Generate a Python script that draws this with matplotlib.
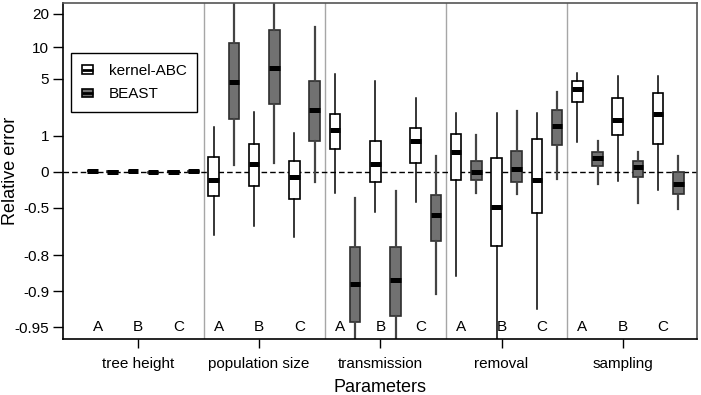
import numpy as np
import matplotlib
matplotlib.use("Agg")
import matplotlib.pyplot as plt
from matplotlib.patches import Rectangle, Patch
from matplotlib.lines import Line2D
from matplotlib.legend_handler import HandlerBase

plt.rcParams['font.family'] = ['Liberation Sans', 'DejaVu Sans']

groups = ['tree height', 'population size', 'transmission', 'removal', 'sampling']
scenarios = ['A', 'B', 'C']
y_ticks = [-0.95, -0.9, -0.8, -0.5, 0, 1, 5, 10, 20]

# five-number summaries, order: group x scenario (A, B, C)
abc_lo = [0.0, 0.005, -0.01, -0.707, -0.652, -0.715, -0.343, -0.544, -0.447,
          -0.866, -0.99, -0.929, 0.78, -0.167, -0.304]
abc_q1 = [0.005, 0.01, -0.005, -0.380, -0.239, -0.408, 0.56, -0.188, 0.178,
          -0.151, -0.759, -0.553, 2.79, 1.01, 0.69]
abc_med = [0.01, 0.015, 0.0, -0.151, 0.155, -0.10, 1.22, 0.149, 0.79,
           0.45, -0.492, -0.151, 3.93, 1.71, 2.03]
abc_q3 = [0.015, 0.02, 0.005, 0.322, 0.69, 0.224, 2.03, 0.80, 1.34,
          1.05, 0.297, 0.87, 4.75, 3.12, 3.56]
abc_hi = [0.02, 0.025, 0.01, 1.37, 2.16, 1.09, 5.5, 4.71, 3.10,
          2.07, 2.07, 2.07, 5.63, 5.29, 5.33]

beast_lo = [-0.01, -0.025, -0.005, 0.127, 0.171, -0.183, -0.99, -0.99, -0.905,
            -0.343, -0.355, -0.129, -0.209, -0.458, -0.512]
beast_q1 = [-0.005, -0.02, 0.0, 1.77, 2.67, 0.82, -0.945, -0.938, -0.736,
            -0.156, -0.178, 0.67, 0.118, -0.106, -0.355]
beast_med = [0.0, -0.015, 0.005, 4.64, 6.34, 2.25, -0.885, -0.875, -0.565,
             0.0, 0.055, 1.42, 0.289, 0.097, -0.214]
beast_q3 = [0.005, -0.01, 0.01, 10.95, 14.3, 4.68, -0.765, -0.765, -0.364,
            0.217, 0.48, 2.25, 0.46, 0.231, -0.015]
beast_hi = [0.01, -0.005, 0.015, 30, 30, 15.1, -0.403, -0.309, 0.340,
            1.01, 2.19, 3.60, 0.79, 0.46, 0.348]

GRAY = '#717171'


def make_stats(lo, q1, med, q3, hi):
    return [dict(whislo=a, q1=b, med=c, q3=d, whishi=e, fliers=[])
            for a, b, c, d, e in zip(lo, q1, med, q3, hi)]


class BoxHandler(HandlerBase):
    # little boxplot glyph for the legend
    def create_artists(self, legend, orig_handle, xdescent, ydescent,
                       width, height, fontsize, trans):
        w = width
        h = height * 0.8
        x0 = -xdescent
        y0 = -ydescent + (height - h) / 2
        rect = Rectangle((x0, y0), w, h, facecolor=orig_handle.get_facecolor(),
                         edgecolor='black', lw=1.2, transform=trans)
        ln = Line2D([x0, x0 + w], [y0 + h / 2] * 2, color='black', lw=2,
                    solid_capstyle='butt', transform=trans)
        return [rect, ln]


fig = plt.figure(figsize=(7.01, 3.95), dpi=100)
ax = fig.add_axes([63 / 701, 1 - 339.3 / 395, 634.3 / 701, 336.6 / 395])
ax.set_yscale('function', functions=(np.log1p, np.expm1))

idx = np.arange(len(abc_med))
pos_abc = 6 * (idx // 3) + 2 * (idx % 3)
pos_beast = pos_abc + 1

for g in range(1, len(groups)):
    ax.axvline(6 * g - 0.5, color='#a6a6a6', lw=1, zorder=1)
ax.axhline(0, color='black', lw=1, ls=(0, (4, 2.2)), zorder=1.5)

ax.bxp(make_stats(abc_lo, abc_q1, abc_med, abc_q3, abc_hi), positions=pos_abc,
       widths=0.53, patch_artist=True, showfliers=False, showcaps=False,
       boxprops=dict(facecolor='white', edgecolor='black', lw=1.2),
       whiskerprops=dict(color='black', lw=1.1),
       medianprops=dict(color='black', lw=3.6, solid_capstyle='butt'))
ax.bxp(make_stats(beast_lo, beast_q1, beast_med, beast_q3, beast_hi), positions=pos_beast,
       widths=0.53, patch_artist=True, showfliers=False, showcaps=False,
       boxprops=dict(facecolor=GRAY, edgecolor='#2e2e2e', lw=1.2),
       whiskerprops=dict(color='#444444', lw=1.6),
       medianprops=dict(color='black', lw=3.6, solid_capstyle='butt'))

for g in range(len(groups)):
    for j, s in enumerate(scenarios):
        ax.text(6 * g + 2 * j + 0.25, -0.95, s, ha='center', va='center', fontsize=11)

ax.set_xlim(-1.46, 29.94)
ax.set_ylim(-0.9604, 24.9)
ax.set_yticks(y_ticks)
ax.set_yticklabels([str(v) for v in y_ticks])
ax.set_xticks([6 * g + 2.25 for g in range(len(groups))])
ax.set_xticklabels(groups)
ax.minorticks_off()
ax.tick_params(axis='y', length=7, width=1, pad=3, labelsize=11)
ax.tick_params(axis='x', length=6.5, width=1, pad=6.5, labelsize=11)

for side in ['top', 'right']:
    ax.spines[side].set_color('#555555')
for side in ['left', 'bottom']:
    ax.spines[side].set_color('black')
for sp in ax.spines.values():
    sp.set_linewidth(1.2)

ax.set_ylabel('Relative error', fontsize=13)
ax.yaxis.set_label_coords(-0.069, 0.5)
ax.set_xlabel('Parameters', fontsize=13)
ax.xaxis.set_label_coords(0.5, -0.118)

handles = [Patch(facecolor='white'), Patch(facecolor=GRAY)]
leg = ax.legend(handles, ['kernel-ABC', 'BEAST'], handler_map={Patch: BoxHandler()},
                loc='upper left', bbox_to_anchor=(0.0126, 0.85), borderaxespad=0,
                fontsize=11, fancybox=False, framealpha=1, edgecolor='black',
                handlelength=0.76, handletextpad=1.0, borderpad=0.7, labelspacing=0.62)
leg.get_frame().set_linewidth(1.0)

fig.savefig('out.png', dpi=100)
